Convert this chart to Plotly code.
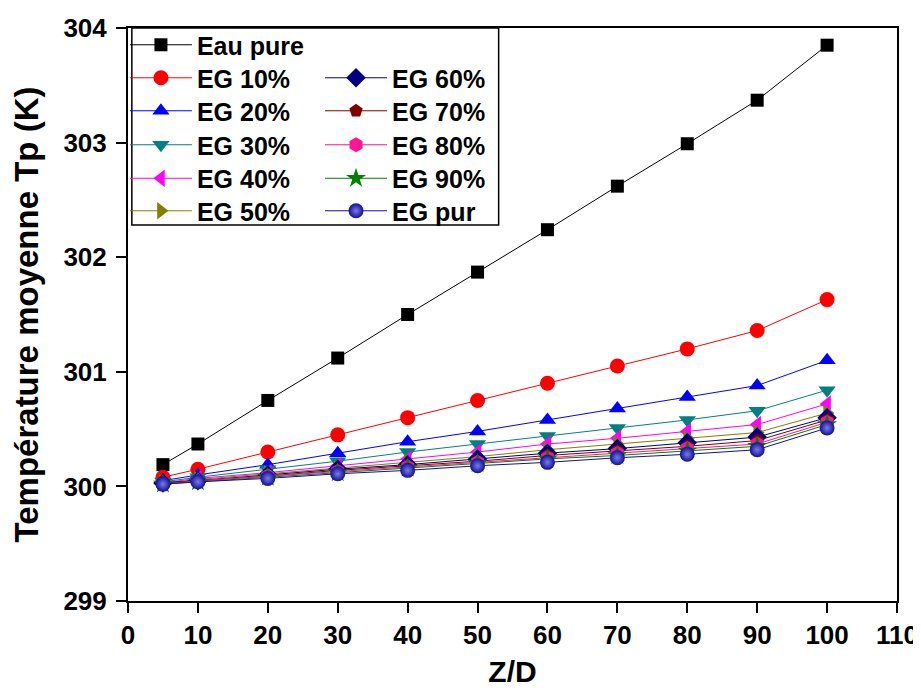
import plotly.graph_objects as go

zd = [5, 10, 20, 30, 40, 50, 60, 70, 80, 90, 100]

eau_pure = [300.19, 300.37, 300.75, 301.12, 301.50, 301.87, 302.24, 302.62, 302.99, 303.37, 303.85]
eg10 = [300.08, 300.15, 300.30, 300.45, 300.60, 300.75, 300.90, 301.05, 301.20, 301.36, 301.63]
eg20 = [300.05, 300.10, 300.19, 300.29, 300.39, 300.48, 300.58, 300.68, 300.78, 300.88, 301.10]
eg30 = [300.04, 300.08, 300.15, 300.22, 300.30, 300.37, 300.44, 300.51, 300.58, 300.66, 300.84]
eg40 = [300.03, 300.07, 300.12, 300.18, 300.24, 300.30, 300.37, 300.42, 300.48, 300.54, 300.72]
eg50 = [300.03, 300.06, 300.11, 300.16, 300.21, 300.26, 300.32, 300.37, 300.42, 300.47, 300.64]
eg60 = [300.03, 300.05, 300.10, 300.15, 300.19, 300.24, 300.29, 300.33, 300.38, 300.43, 300.60]
eg70 = [300.03, 300.05, 300.09, 300.14, 300.18, 300.22, 300.27, 300.31, 300.35, 300.40, 300.58]
eg80 = [300.02, 300.05, 300.09, 300.13, 300.17, 300.21, 300.25, 300.29, 300.33, 300.37, 300.56]
eg90 = [300.02, 300.04, 300.08, 300.12, 300.16, 300.20, 300.24, 300.27, 300.31, 300.35, 300.54]
eg_pur = [300.02, 300.04, 300.07, 300.11, 300.14, 300.18, 300.21, 300.25, 300.28, 300.32, 300.51]

names = ["Eau pure", "EG 10%", "EG 20%", "EG 30%", "EG 40%", "EG 50%",
         "EG 60%", "EG 70%", "EG 80%", "EG 90%", "EG pur"]
series = [eau_pure, eg10, eg20, eg30, eg40, eg50, eg60, eg70, eg80, eg90, eg_pur]
colors = ["#000000", "#ff0000", "#0000ff", "#008080", "#ff00ff", "#808000",
          "#000080", "#800000", "#ff1493", "#008000", "#10109a"]
symbols = ["square", "circle", "triangle-up", "triangle-down", "triangle-left",
           "triangle-right", "diamond", "pentagon", "hexagon", "star", "circle"]
sizes = [13, 15, 15, 15, 15, 15, 15, 14, 15, 15, 15]

FONT = "Liberation Sans, Arial, sans-serif"

# legend slots: (column, row)
slots = [(0, 0), (0, 1), (0, 2), (0, 3), (0, 4), (0, 5),
         (1, 1), (1, 2), (1, 3), (1, 4), (1, 5)]
col_x = [-0.004, 0.2497]
row_y = [0.9703, 0.9127, 0.8551, 0.7958, 0.7373, 0.6806]

fig = go.Figure()
legend_layouts = {}
for i, (nm, ys, c, s, sz) in enumerate(zip(names, series, colors, symbols, sizes)):
    mk = dict(symbol=s, size=sz, color=c, line=dict(width=0))
    if nm == "EG pur":
        mk["gradient"] = dict(type="radial", color="#7a7ae8")
    lname = "legend" if i == 0 else f"legend{i + 1}"
    fig.add_trace(go.Scatter(
        x=zd, y=ys, name=nm, mode="lines+markers",
        line=dict(color=c, width=1),
        marker=mk,
        legend=lname, showlegend=True,
    ))
    col, row = slots[i]
    legend_layouts[lname] = dict(
        x=col_x[col], y=row_y[row], xanchor="left", yanchor="middle",
        bgcolor="rgba(0,0,0,0)", borderwidth=0,
        font=dict(family=FONT, size=25, color="black", weight="bold"),
        itemwidth=62, visible=True,
    )

fig.update_layout(
    width=913, height=682,
    showlegend=True,
    margin=dict(l=120, r=24, t=20, b=89),
    paper_bgcolor="white", plot_bgcolor="white",
    font=dict(family=FONT, size=25, color="black"),
    xaxis=dict(
        range=[0, 110], dtick=10, tick0=0, automargin=False,
        showgrid=False, zeroline=False,
        showline=True, linecolor="black", linewidth=2, mirror=True,
        ticks="outside", ticklen=10, tickwidth=1.5, tickcolor="black",
        tickfont=dict(family=FONT, size=26, color="black", weight="bold"),
        title=dict(text="Z/D", font=dict(family=FONT, size=30, color="black", weight="bold"), standoff=12),
    ),
    yaxis=dict(
        range=[299, 304], dtick=1, tick0=299, automargin=False,
        showgrid=False, zeroline=False,
        showline=True, linecolor="black", linewidth=2, mirror=True,
        ticks="outside", ticklen=10, tickwidth=1.5, tickcolor="black",
        ticklabelstandoff=4,
        tickfont=dict(family=FONT, size=26, color="black", weight="bold"),
        title=dict(text="Température moyenne Tp (K)", font=dict(family=FONT, size=33, color="black", weight="bold"), standoff=24),
    ),
    shapes=[dict(type="rect", xref="paper", yref="paper",
                 x0=0.005, x1=0.482, y0=0.656, y1=1.0,
                 line=dict(color="black", width=1.5), fillcolor="white", layer="below")],
    **legend_layouts,
)

fig.write_html("out.html")
